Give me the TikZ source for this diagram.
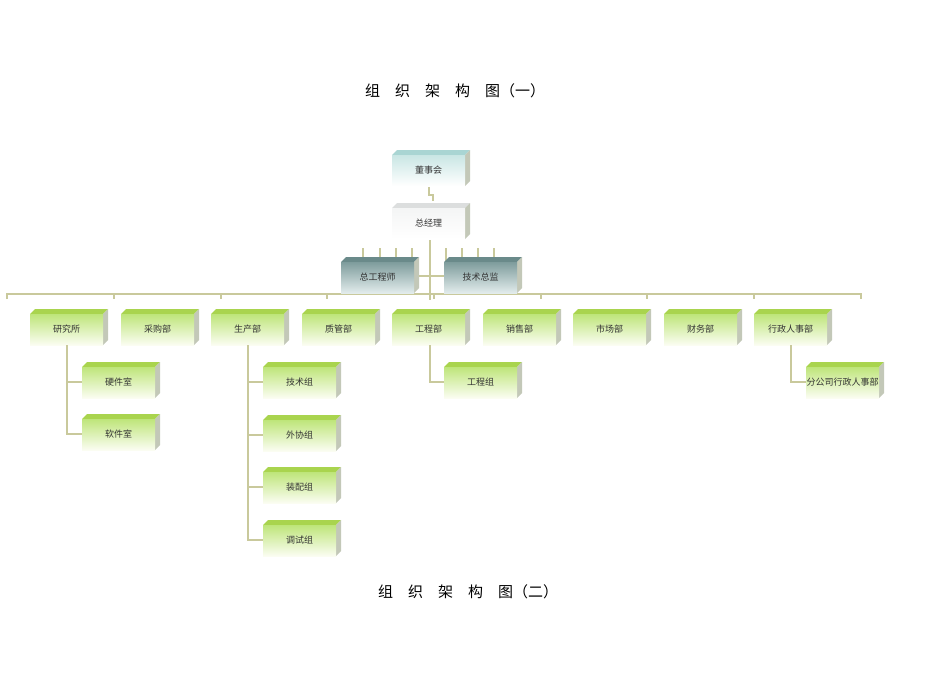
\documentclass[tikz,border=0pt]{standalone}
\usepackage{fontspec}
\newfontfamily\cjk{Noto Sans CJK SC}
\begin{document}
\begin{tikzpicture}[x=1pt,y=-1pt,
  conn/.style={draw=lineC,line width=2.6pt},
  lbl/.style={font=\cjk\fontsize{9}{10}\selectfont,text=black!80,inner sep=0pt},
  ttl/.style={font=\cjk\fontsize{15}{16}\selectfont,inner sep=0pt}]
\definecolor{lineC}{HTML}{C9C99C}
\definecolor{gTop}{HTML}{BEE57A}
\definecolor{gBot}{HTML}{FBFDF2}
\definecolor{gBev}{HTML}{A9D44E}
\definecolor{gSide}{HTML}{C3C8B8}
\definecolor{tTop}{HTML}{C9E6E4}
\definecolor{tBev}{HTML}{A9D5D3}
\definecolor{wTop}{HTML}{F4F5F5}
\definecolor{wBev}{HTML}{DCDEDE}
\definecolor{dTop}{HTML}{7E9C9C}
\definecolor{dBot}{HTML}{E2ECEC}
\definecolor{dBev}{HTML}{6A8A8A}
\useasboundingbox (0,0) rectangle (950,672);
\newcommand\bx[7]{% name x y text top bot bevel
  \fill[#7] (#2,#3) -- (#2+5,#3-5) -- (#2+78,#3-5) -- (#2+73,#3) -- cycle;
  \fill[gSide] (#2+73,#3) -- (#2+78,#3-5) -- (#2+78,#3+26) -- (#2+73,#3+31) -- cycle;
  \shade[top color=#5,bottom color=#6] (#2,#3) rectangle (#2+73,#3+31);
  \node[lbl] (#1) at (#2+36.5,#3+15.5) {#4};}
% titles
\node[ttl] (t1) at (455,91) {组\quad 织\quad 架\quad 构\quad 图（一）};
\node[ttl] (t2) at (468,592) {组\quad 织\quad 架\quad 构\quad 图（二）};
% background connectors
\foreach \xx in {363,380,396,412,446,462,478,494} \draw[conn] (\xx,248) -- (\xx,262);
\draw[conn] (7,299) -- (7,294) -- (861,294) -- (861,299);
\foreach \xx in {114,221,327,434,541,647,754} \draw[conn] (\xx,294) -- (\xx,299);
\draw[conn] (430,239) -- (430,300);
\draw[conn] (414,276) -- (444,276);
\draw[conn] (429,187) -- (429,195) -- (433,195) -- (433,201);
% top
\bx{dsh}{392}{155}{董事会}{tTop}{white}{tBev}
\bx{zjl}{392}{208}{总经理}{wTop}{white}{wBev}
\bx{zgc}{341}{262}{总工程师}{dTop}{dBot}{dBev}
\bx{jsz}{444}{262}{技术总监}{dTop}{dBot}{dBev}
% department row
\foreach \xx/\nm/\tx in {30/yjs/研究所,121/cgb/采购部,211/scb/生产部,302/zgb/质管部,392/gcb/工程部,483/xsb/销售部,573/scc/市场部,664/cwb/财务部,754/xzb/行政人事部}
  {\bx{\nm}{\xx}{314}{\tx}{gTop}{gBot}{gBev}}
% child connectors
\draw[conn] (67,345) -- (67,434) -- (82,434);
\draw[conn] (67,382) -- (82,382);
\draw[conn] (248,345) -- (248,540) -- (263,540);
\foreach \yy in {382,435,487} \draw[conn] (248,\yy) -- (263,\yy);
\draw[conn] (430,345) -- (430,382) -- (444,382);
\draw[conn] (791,345) -- (791,382) -- (806,382);
% children
\bx{yjj}{82}{367}{硬件室}{gTop}{gBot}{gBev}
\bx{rjs}{82}{419}{软件室}{gTop}{gBot}{gBev}
\bx{jsg}{263}{367}{技术组}{gTop}{gBot}{gBev}
\bx{wxz}{263}{420}{外协组}{gTop}{gBot}{gBev}
\bx{zpz}{263}{472}{装配组}{gTop}{gBot}{gBev}
\bx{tsz}{263}{525}{调试组}{gTop}{gBot}{gBev}
\bx{gcz}{444}{367}{工程组}{gTop}{gBot}{gBev}
\bx{fgs}{806}{367}{分公司行政人事部}{gTop}{gBot}{gBev}
\end{tikzpicture}
\end{document}
